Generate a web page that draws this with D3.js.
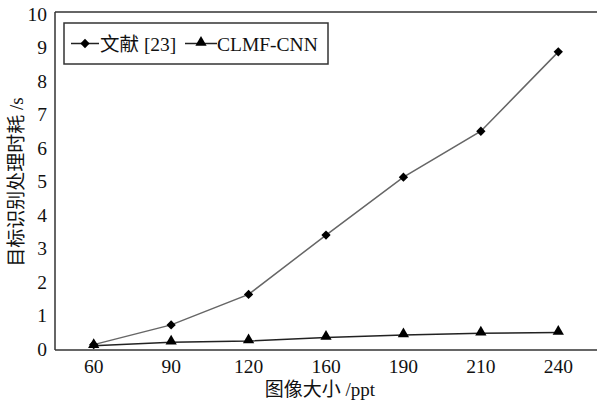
<!DOCTYPE html>
<html><head><meta charset="utf-8">
<script src="https://cdn.jsdelivr.net/npm/d3@7"></script>
<style>html,body{margin:0;padding:0;background:#fff;}svg{display:block;}
.t{font-family:"Liberation Serif","Times New Roman","DejaVu Serif","Noto Sans CJK SC",serif;fill:#111;}
</style>
</head><body>
<svg id="c" width="597" height="408"></svg>
<script>
const categories = ["60","90","120","160","190","210","240"];
const seriesNames = ["文献 [23]", "CLMF-CNN"];
const series1 = [0.13, 0.72, 1.63, 3.4, 5.13, 6.5, 8.87];
const series2 = [0.1, 0.2, 0.24, 0.34, 0.42, 0.47, 0.49];
const yTicks = [0,1,2,3,4,5,6,7,8,9,10];
const xLabel = "图像大小 /ppt";
const yLabel = "目标识别处理时耗 /s";

const svg = d3.select("#c");
const L = 55, R = 597, T = 12, B = 350;
const x = d3.scaleBand().domain(categories).range([L, R]);
const y = d3.scaleLinear().domain([0, 10]).range([349, 14]);
const cx = d => x(d) + x.bandwidth() / 2;

svg.append("line").attr("x1", L).attr("x2", R).attr("y1", T).attr("y2", T).attr("stroke", "#333").attr("stroke-width", 1.5);
svg.append("line").attr("x1", L).attr("x2", L).attr("y1", T).attr("y2", B).attr("stroke", "#333").attr("stroke-width", 1.5);
svg.append("line").attr("x1", L).attr("x2", R).attr("y1", B).attr("y2", B).attr("stroke", "#333").attr("stroke-width", 1.5);

const yAxis = d3.axisLeft(y).tickValues(yTicks).tickSize(0).tickPadding(8).tickFormat(d3.format("d"));
const gy = svg.append("g").attr("transform", `translate(${L},0)`).call(yAxis).attr("font-family", null);
gy.select(".domain").remove();
gy.selectAll("text").attr("class", "t").style("font-size", "19.5px");

const xAxis = d3.axisBottom(x).tickSize(0).tickPadding(9);
const gx = svg.append("g").attr("transform", `translate(0,${B})`).call(xAxis).attr("font-family", null);
gx.select(".domain").remove();
gx.selectAll("text").attr("class", "t").style("font-size", "19.5px");

svg.append("text").attr("class", "t").attr("x", 320).attr("y", 396).attr("text-anchor", "middle")
  .style("font-size", "19px").text(xLabel);
svg.append("text").attr("class", "t").attr("transform", "translate(23,182) rotate(-90)").attr("text-anchor", "middle")
  .style("font-size", "19px").text(yLabel);

const line = d3.line().x((d, i) => cx(categories[i])).y(d => y(d));
svg.append("path").datum(series1).attr("d", line).attr("fill", "none").attr("stroke", "#666").attr("stroke-width", 1.5);
svg.append("path").datum(series2).attr("d", line).attr("fill", "none").attr("stroke", "#222").attr("stroke-width", 1.5);

const diamond = d3.symbol().type(d3.symbolDiamond2).size(55);
const tri = d3.symbol().type(d3.symbolTriangle).size(55);
svg.selectAll(".m1").data(series1).enter().append("path")
  .attr("d", diamond).attr("transform", (d, i) => `translate(${cx(categories[i])},${y(d)})`).attr("fill", "#000");
svg.selectAll(".m2").data(series2).enter().append("path")
  .attr("d", tri).attr("transform", (d, i) => `translate(${cx(categories[i])},${y(d) - 1})`).attr("fill", "#000");

const lg = svg.append("g");
lg.append("rect").attr("x", 64).attr("y", 23).attr("width", 264).attr("height", 41)
  .attr("fill", "#fff").attr("stroke", "#333").attr("stroke-width", 1.5);
const ly = 43.5;
lg.append("line").attr("x1", 71).attr("x2", 99).attr("y1", ly).attr("y2", ly).attr("stroke", "#222").attr("stroke-width", 1.5);
lg.append("path").attr("d", diamond).attr("transform", `translate(85,${ly})`).attr("fill", "#000");
lg.append("text").attr("class", "t").attr("x", 100).attr("y", ly + 7).style("font-size", "19.5px").text(seriesNames[0]);
lg.append("line").attr("x1", 185).attr("x2", 217).attr("y1", ly).attr("y2", ly).attr("stroke", "#222").attr("stroke-width", 1.5);
lg.append("path").attr("d", tri).attr("transform", `translate(201,${ly - 1})`).attr("fill", "#000");
lg.append("text").attr("class", "t").attr("x", 217).attr("y", ly + 7).style("font-size", "19.5px").text(seriesNames[1]);
</script>
</body></html>
